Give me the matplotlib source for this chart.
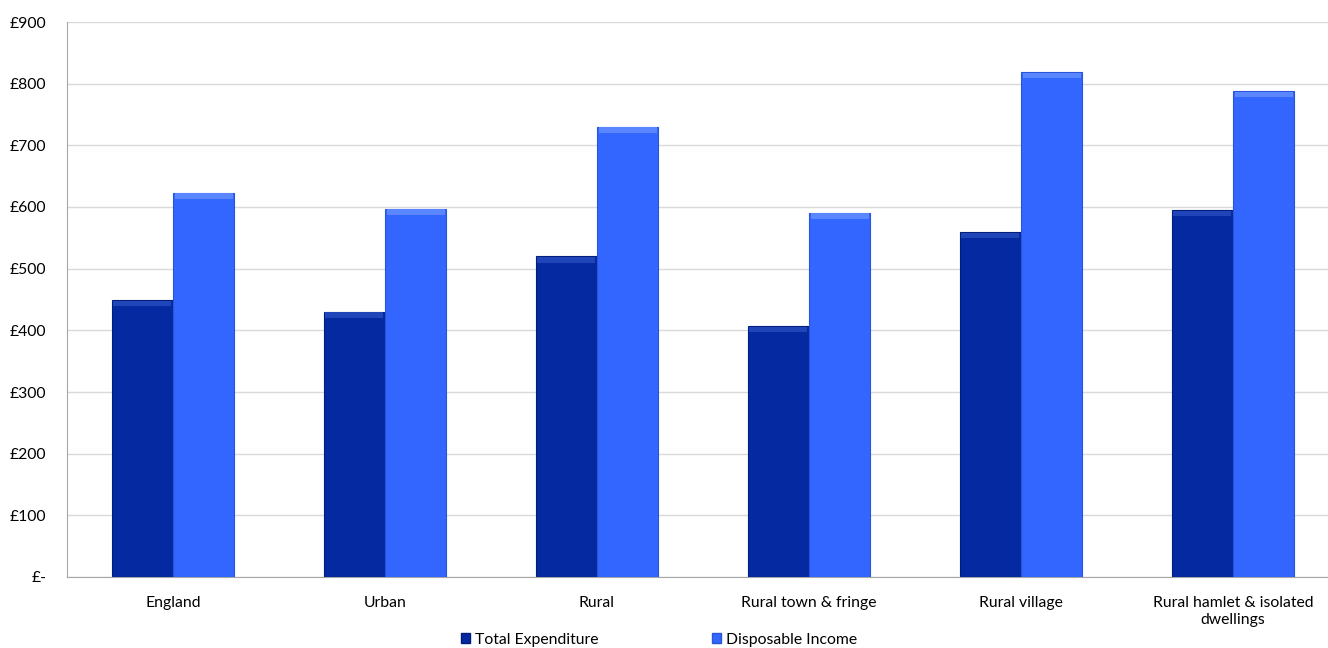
import matplotlib
matplotlib.use("Agg")
import matplotlib.pyplot as plt
import numpy as np
from matplotlib.patches import Patch

categories = ["England", "Urban", "Rural", "Rural town & fringe", "Rural village",
              "Rural hamlet & isolated\ndwellings"]
total_expenditure = [449, 430, 520, 407, 559, 595]
disposable_income = [623, 597, 730, 591, 819, 788]
ytick_values = [0, 100, 200, 300, 400, 500, 600, 700, 800, 900]
ytick_labels = ["£-", "£100", "£200", "£300", "£400", "£500", "£600", "£700", "£800", "£900"]
series_names = ["Total Expenditure", "Disposable Income"]

plt.rcParams['font.family'] = ['Lato', 'DejaVu Sans']
fs = 11.3

fig = plt.figure(figsize=(13.28, 6.48), dpi=100)
ax = fig.add_axes([67/1328, 1 - 577/648, 1272/1328, (577 - 22)/648])

x = np.arange(len(categories))
w = 0.29
c_te = "#0529A0"
c_di = "#3366FF"
edge_te = "#021E78"
edge_di = "#2A55D8"

ax.bar(x - w/2, total_expenditure, w, color=c_te, edgecolor=edge_te, linewidth=0.8, zorder=3)
ax.bar(x + w/2, disposable_income, w, color=c_di, edgecolor=edge_di, linewidth=0.8, zorder=3)
# bevel highlights at the top of each bar
bevel = 9
ax.bar(x - w/2, [bevel]*len(x), w*0.94, bottom=np.array(total_expenditure) - bevel - 1,
       color="#1F45B8", linewidth=0, zorder=4)
ax.bar(x + w/2, [bevel]*len(x), w*0.94, bottom=np.array(disposable_income) - bevel - 1,
       color="#5A86FF", linewidth=0, zorder=4)

ax.set_ylim(0, 900)
ax.set_xlim(-0.5, len(categories) - 0.5)
ax.set_yticks(ytick_values)
ax.set_yticklabels(ytick_labels, fontsize=fs)
ax.set_xticks(x)
ax.set_xticklabels(categories, fontsize=fs, linespacing=1.25)
ax.tick_params(axis='x', length=0, pad=14)
ax.tick_params(axis='y', length=0, pad=15)
ax.yaxis.grid(True, color="#D9D9D9", linewidth=1, zorder=0)
ax.set_axisbelow(True)
for s in ["top", "right"]:
    ax.spines[s].set_visible(False)
ax.spines["left"].set_color("#A6A6A6")
ax.spines["bottom"].set_color("#A6A6A6")

handles = [Patch(facecolor=c_te, edgecolor=edge_te), Patch(facecolor=c_di, edgecolor=edge_di)]
fig.legend(handles, series_names, loc="center", bbox_to_anchor=(659/1328, 1 - 640/648),
           ncol=2, frameon=False, fontsize=fs, handlelength=0.6, handleheight=0.6,
           handletextpad=0.3, columnspacing=7.2)

fig.savefig("out.png", dpi=100)
